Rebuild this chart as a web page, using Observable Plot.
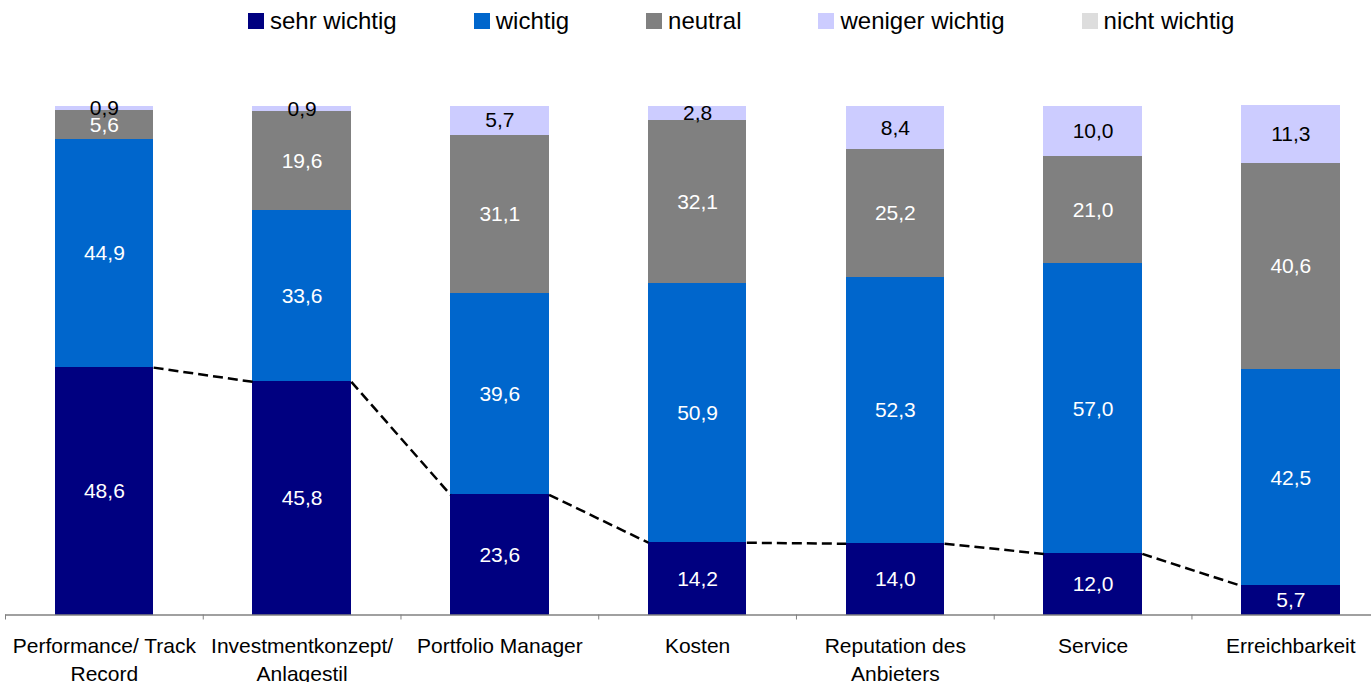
<!DOCTYPE html>
<html>
<head>
<meta charset="utf-8">
<script src="https://cdn.jsdelivr.net/npm/d3@7"></script>
<script src="https://cdn.jsdelivr.net/npm/@observablehq/plot@0.6"></script>
<style>
  html, body { margin: 0; padding: 0; background: #fff; }
  body { width: 1371px; height: 682px; overflow: hidden; font-family: "Liberation Sans", Arial, sans-serif; }
  #legend { height: 44px; box-sizing: border-box; padding-top: 9px; padding-left: 248px; display: flex; gap: 77px; }
  .item { display: flex; align-items: center; height: 24px; font-size: 24px; line-height: 24px; color: #000; white-space: nowrap; }
  .swatch { width: 16px; height: 16px; margin-right: 6px; }
  #chart svg { display: block; }
</style>
</head>
<body>
<div id="legend"></div>
<div id="chart"></div>
<script>
// Importance of selection criteria, share of answers in percent
const categories = [
  "Performance/ Track Record",
  "Investmentkonzept/ Anlagestil",
  "Portfolio Manager",
  "Kosten",
  "Reputation des Anbieters",
  "Service",
  "Erreichbarkeit"
];
const tickLabels = [
  "Performance/ Track\nRecord",
  "Investmentkonzept/\nAnlagestil",
  "Portfolio Manager",
  "Kosten",
  "Reputation des\nAnbieters",
  "Service",
  "Erreichbarkeit"
];
const series = ["sehr wichtig", "wichtig", "neutral", "weniger wichtig", "nicht wichtig"];
const colors = ["#000080", "#0066CC", "#808080", "#CCCCFF", "#DDDDDD"];
const labelColors = ["#ffffff", "#ffffff", "#ffffff", "#000000", "#000000"];

const sehrWichtig    = [48.6, 45.8, 23.6, 14.2, 14.0, 12.0, 5.7];
const wichtig        = [44.9, 33.6, 39.6, 50.9, 52.3, 57.0, 42.5];
const neutral        = [5.6, 19.6, 31.1, 32.1, 25.2, 21.0, 40.6];
const wenigerWichtig = [0.9, 0.9, 5.7, 2.8, 8.4, 10.0, 11.3];
const nichtWichtig   = [0, 0, 0, 0, 0, 0, 0];

const valuesBySeries = [sehrWichtig, wichtig, neutral, wenigerWichtig, nichtWichtig];

// stacked segments, bottom to top
const segments = [];
categories.forEach((cat, i) => {
  let base = 0;
  series.forEach((s, k) => {
    const v = valuesBySeries[k][i];
    segments.push({i, category: cat, series: s, value: v, y1: base, y2: base + v, label: labelColors[k]});
    base += v;
  });
});

// series line joining the tops of the "sehr wichtig" segments
const halfWidth = 0.249;
const connectors = sehrWichtig.slice(0, -1).map((v, i) => ({i, from: v, to: sehrWichtig[i + 1]}));

const boundaries = d3.range(categories.length).map(i => i - 0.5);
const fmt = v => v.toFixed(1).replace(".", ",");
const font = "'Liberation Sans', Arial, sans-serif";

// legend
const legend = d3.select("#legend");
series.forEach((s, k) => {
  const item = legend.append("div").attr("class", "item");
  item.append("div").attr("class", "swatch").style("background", colors[k]);
  item.append("span").text(s);
});

const chart = Plot.plot({
  width: 1371,
  height: 638,
  marginLeft: 5,
  marginRight: 0,
  marginTop: 61.5,
  marginBottom: 67.5,
  x: {type: "linear", domain: [-0.5, 6.408], axis: null},
  y: {domain: [0, 100], axis: null},
  color: {domain: series, range: colors},
  style: {fontFamily: font, fontSize: "21px", background: "#fff", overflow: "visible"},
  marks: [
    Plot.rect(segments.filter(d => d.value > 0), {
      x1: d => d.i - halfWidth,
      x2: d => d.i + halfWidth,
      y1: "y1",
      y2: "y2",
      fill: "series",
      shapeRendering: "crispEdges"
    }),
    Plot.link(connectors, {
      x1: d => d.i + halfWidth,
      x2: d => d.i + 1 - halfWidth,
      y1: "from",
      y2: "to",
      stroke: "#000",
      strokeWidth: 2.5,
      strokeDasharray: "10,5"
    }),
    Plot.ruleY([0], {stroke: "#808080", strokeWidth: 1.5}),
    Plot.axisX(boundaries, {tickSize: 5, tickFormat: () => "", stroke: "#808080", label: null}),
    Plot.text(segments.filter(d => d.value > 0), {
      x: "i",
      y: d => (d.y1 + d.y2) / 2,
      text: d => fmt(d.value),
      fill: "label",
      fontSize: 21
    }),
    Plot.text(tickLabels, {
      x: (d, i) => i,
      y: () => 0,
      text: d => d,
      dy: 18,
      lineAnchor: "top",
      lineHeight: 1.33,
      fontSize: 21,
      fill: "#000"
    })
  ]
});
document.getElementById("chart").appendChild(chart);
</script>
</body>
</html>
